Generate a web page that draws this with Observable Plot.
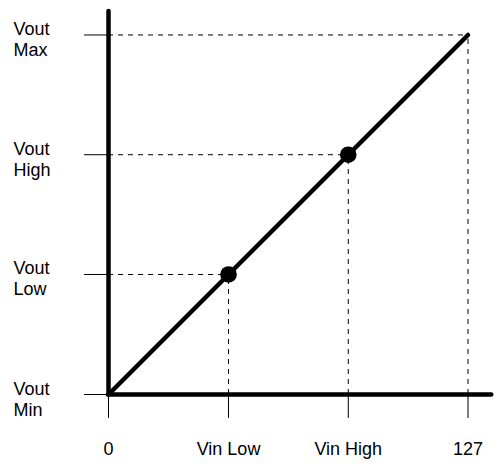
<!DOCTYPE html>
<html>
<head>
<meta charset="utf-8">
<script src="https://cdn.jsdelivr.net/npm/d3@7"></script>
<script src="https://cdn.jsdelivr.net/npm/@observablehq/plot@0.6"></script>
<style>
  html, body { margin: 0; padding: 0; background: #fff; }
  #chart { width: 502px; height: 464px; }
</style>
</head>
<body>
<div id="chart"></div>
<script>
// Data
const xTickValues = [0, 42.4, 84.7, 127];
const xTickLabels = ["0", "Vin Low", "Vin High", "127"];
const yTickValues = [0, 42.4, 84.7, 127];
const yTickLabels = ["Vout\nMin", "Vout\nLow", "Vout\nHigh", "Vout\nMax"];
const markerX = [42.4, 84.7, 127];
const markerY = [42.4, 84.7, 127];
const dotX = [42.4, 84.7];
const dotY = [42.4, 84.7];
const lineX = [0, 127];
const lineY = [0, 127];

const xLabelMap = new Map(xTickValues.map((v, i) => [v, xTickLabels[i]]));
const yTicks = yTickValues.map((v, i) => ({v, label: yTickLabels[i]}));
const guides = markerX.map((x, i) => ({x, y: markerY[i]}));
const dots = dotX.map((x, i) => ({x, y: dotY[i]}));
const line = lineX.map((x, i) => ({x, y: lineY[i]}));

const FONT = "'Liberation Sans', Arial, Helvetica, sans-serif";
const FS = 18;
const LH = 21;

const chart = Plot.plot({
  width: 502,
  height: 464,
  marginLeft: 108,
  marginRight: 9,
  marginTop: 9,
  marginBottom: 70,
  style: {fontFamily: FONT, fontSize: FS + "px", color: "black", background: "white"},
  x: {domain: [0, 136], axis: null},
  y: {domain: [0, 136], axis: null},
  marks: [
    // dashed guides
    Plot.ruleY(guides, {y: "y", x1: 0, x2: "x", stroke: "black", strokeWidth: 1, strokeDasharray: "5,5"}),
    Plot.ruleX(guides, {x: "x", y1: 0, y2: "y", stroke: "black", strokeWidth: 1, strokeDasharray: "5,5"}),
    // ticks + x labels
    Plot.axisX({ticks: xTickValues, tickFormat: d => xLabelMap.get(d), tickSize: 24, tickPadding: 24, fontSize: FS, stroke: "black", fill: "black", label: null}),
    Plot.axisY({ticks: yTickValues, tickFormat: () => "", tickSize: 24, stroke: "black", label: null}),
    // y labels
    Plot.text(yTicks, {y: "v", text: "label", frameAnchor: "left", dx: -95, textAnchor: "start", lineAnchor: "bottom", lineHeight: LH / FS, dy: LH, fontSize: FS, fill: "black"}),
    // axis lines
    Plot.ruleX([0], {y1: 0, y2: 135.3, stroke: "black", strokeWidth: 4.5, strokeLinecap: "round"}),
    Plot.ruleY([0], {x1: 0, x2: 135.4, stroke: "black", strokeWidth: 4.5, strokeLinecap: "round"}),
    // transfer line
    Plot.line(line, {x: "x", y: "y", stroke: "black", strokeWidth: 4.5, strokeLinecap: "round"}),
    // points
    Plot.dot(dots, {x: "x", y: "y", r: 8.3, fill: "black", stroke: null})
  ]
});
document.getElementById("chart").appendChild(chart);
</script>
</body>
</html>
